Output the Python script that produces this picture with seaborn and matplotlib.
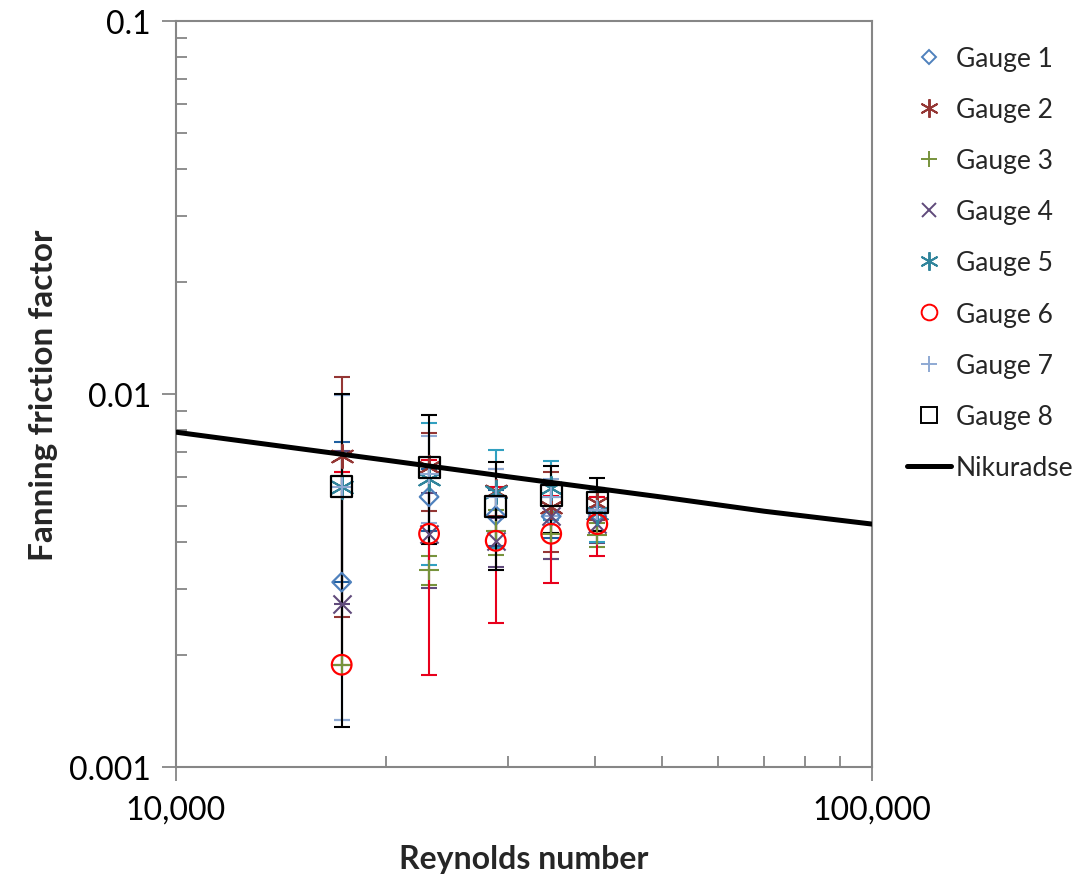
import numpy as np
import pandas as pd
import matplotlib
matplotlib.use("Agg")
import matplotlib.pyplot as plt
from matplotlib.lines import Line2D
from matplotlib.ticker import FixedLocator, FixedFormatter, LogLocator, NullFormatter
import seaborn as sns

# ---- data ----
reynolds = [17300, 23100, 28800, 34600, 40300]
gauge_names = ["Gauge 1", "Gauge 2", "Gauge 3", "Gauge 4",
               "Gauge 5", "Gauge 6", "Gauge 7", "Gauge 8"]
gauge1 = [0.00313, 0.00530, 0.00472, 0.00470, 0.00480]
gauge2 = [0.00682, 0.00637, 0.00550, 0.00498, 0.00510]
gauge3 = [0.00188, 0.00337, 0.00430, 0.00422, 0.00420]
gauge4 = [0.00274, 0.00422, 0.00404, 0.00470, 0.00448]
gauge5 = [0.00564, 0.00592, 0.00546, 0.00560, 0.00480]
gauge6 = [0.00188, 0.00422, 0.00404, 0.00422, 0.00448]
gauge7 = [0.00564, 0.00610, 0.00530, 0.00530, 0.00490]
gauge8 = [0.00564, 0.00637, 0.00498, 0.00533, 0.00513]

# standard deviations (error bars)
gauge1_err = [0.00430, 0.00100, 0.00080, 0.00060, 0.00050]
gauge2_err = [0.00430, 0.00150, 0.00080, 0.00120, 0.00050]
gauge3_err = [0.00430, 0.00030, 0.00060, 0.00060, 0.00030]
gauge4_err = [0.00430, 0.00120, 0.00060, 0.00110, 0.00050]
gauge5_err = [0.00430, 0.00245, 0.00160, 0.00100, 0.00080]
gauge6_err = [0.00430, 0.00245, 0.00160, 0.00110, 0.00080]
gauge7_err = [0.00430, 0.00160, 0.00100, 0.00060, 0.00060]
gauge8_err = [0.00436, 0.00242, 0.00160, 0.00110, 0.00083]

nik_re = [10000, 20000, 30000, 50000, 70000, 100000]
nik_f = [0.00790, 0.00665, 0.00600, 0.00529, 0.00485, 0.00448]

x_ticks = [10000, 100000]
x_tick_labels = ["10,000", "100,000"]
y_ticks = [0.001, 0.01, 0.1]
y_tick_labels = ["0.001", "0.01", "0.1"]

# ---- styles ----
gauges = [gauge1, gauge2, gauge3, gauge4, gauge5, gauge6, gauge7, gauge8]
errs = [gauge1_err, gauge2_err, gauge3_err, gauge4_err,
        gauge5_err, gauge6_err, gauge7_err, gauge8_err]
colors = ["#4F81BD", "#943634", "#77933C", "#604A7B",
          "#31859C", "#FF0000", "#8EA9D3", "#000000"]
err_colors = ["#1F5FA0", "#943634", "#77933C", "#604A7B",
              "#31A0C0", "#E8001C", "#8EA9D3", "#000000"]
markers = ["D", (6, 2, 0), "+", "x", (6, 2, 0), "o", "+", "s"]
filled = [True, False, False, False, False, True, False, True]
msizes = [90, 280, 190, 170, 280, 200, 190, 230]

sns.set_theme(style="white")
plt.rcParams["font.family"] = ["Lato", "DejaVu Sans"]

fig = plt.figure(figsize=(10.8, 8.78), dpi=100)
ax = fig.add_axes([176 / 1080, 1 - 768 / 878, 696 / 1080, 746 / 878])
ax.set_xscale("log")
ax.set_yscale("log")

# error bars (lower bars that would go below zero are omitted)
for i, g in enumerate(gauges):
    y = np.array(g)
    err = np.array(errs[i])
    lower = np.where(y - err > 0, err, 0.0)
    ax.errorbar(reynolds, y, yerr=[lower, err], fmt="none",
                ecolor=err_colors[i], elinewidth=1.5, capsize=6,
                capthick=1.5, zorder=2)

# markers
for i, g in enumerate(gauges):
    df = pd.DataFrame({"Re": reynolds, "f": g})
    if filled[i]:
        sns.scatterplot(data=df, x="Re", y="f", ax=ax, marker=markers[i],
                        s=msizes[i], facecolor="none", edgecolor=colors[i],
                        color=colors[i], linewidth=1.6, zorder=3)
    else:
        sns.scatterplot(data=df, x="Re", y="f", ax=ax, marker=markers[i],
                        s=msizes[i], color=colors[i], linewidth=1.5, zorder=3)

# Nikuradse line
nik_df = pd.DataFrame({"Re": nik_re, "f": nik_f})
sns.lineplot(data=nik_df, x="Re", y="f", ax=ax, color="black",
             linewidth=3.6, zorder=4)

ax.set_xlim(10000, 100000)
ax.set_ylim(0.001, 0.1)

# ticks
ax.xaxis.set_major_locator(FixedLocator(x_ticks))
ax.xaxis.set_major_formatter(FixedFormatter(x_tick_labels))
ax.yaxis.set_major_locator(FixedLocator(y_ticks))
ax.yaxis.set_major_formatter(FixedFormatter(y_tick_labels))
ax.xaxis.set_minor_locator(LogLocator(base=10, subs=np.arange(2, 10)))
ax.yaxis.set_minor_locator(LogLocator(base=10, subs=np.arange(2, 10)))
ax.xaxis.set_minor_formatter(NullFormatter())
ax.yaxis.set_minor_formatter(NullFormatter())
ax.tick_params(axis="both", which="major", direction="out", length=10,
               width=1.3, color="#868686", labelsize=23, pad=8,
               labelcolor="black", bottom=True, left=True)
ax.tick_params(axis="both", which="minor", direction="in", length=8,
               width=1.3, color="#868686", bottom=True, left=True)
ax.tick_params(axis="x", which="major", pad=10)

for s in ax.spines.values():
    s.set_visible(True)
    s.set_color("#868686")
    s.set_linewidth(1.5)
ax.grid(False)

ax.set_xlabel("Reynolds number", fontsize=23, fontweight="bold", labelpad=14)
ax.set_ylabel("Fanning friction factor", fontsize=24, fontweight="bold",
              labelpad=8)

# legend
handles = []
for i in range(8):
    handles.append(Line2D([], [], linestyle="none", marker=markers[i],
                          markersize=np.sqrt(msizes[i]) * 0.8,
                          markerfacecolor="none", markeredgecolor=colors[i],
                          color=colors[i], markeredgewidth=1.4))
handles.append(Line2D([], [], color="black", linewidth=3.6))
labels = gauge_names + ["Nikuradse"]
fig.legend(handles, labels, loc="upper left",
           bbox_to_anchor=(907 / 1080, 1 - 47 / 878), frameon=False,
           fontsize=19, handlelength=1.65, handletextpad=0.2,
           labelspacing=0.99, borderaxespad=0, borderpad=0)

fig.savefig("out.png", dpi=100)
